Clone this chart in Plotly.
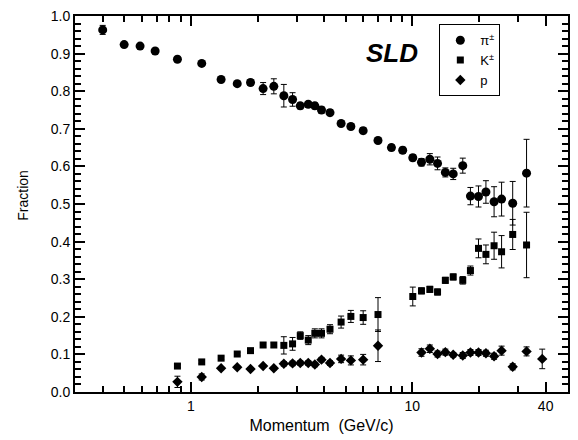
import plotly.graph_objects as go

# Pions
pi_p = [0.40, 0.50, 0.59, 0.69, 0.87, 1.12, 1.37, 1.62, 1.86, 2.12, 2.37, 2.63, 2.88, 3.12, 3.39,
        3.63, 3.89, 4.25, 4.77, 5.28, 6.0, 7.0, 8.05, 9.05, 10.05, 11.0, 12.0, 13.0, 14.1, 15.3,
        16.9, 18.3, 19.9, 21.5, 23.4, 25.3, 28.4, 32.8]
pi_f = [0.963, 0.924, 0.920, 0.907, 0.885, 0.874, 0.831, 0.820, 0.823, 0.807, 0.813, 0.788, 0.778,
        0.761, 0.765, 0.761, 0.750, 0.743, 0.714, 0.706, 0.695, 0.669, 0.650, 0.643, 0.623, 0.611,
        0.619, 0.608, 0.584, 0.580, 0.602, 0.521, 0.520, 0.532, 0.506, 0.513, 0.502, 0.582]
pi_e = [0.012, 0.004, 0.004, 0.004, 0.004, 0.004, 0.005, 0.005, 0.008, 0.016, 0.020, 0.030, 0.018,
        0.008, 0.008, 0.008, 0.008, 0.008, 0.008, 0.008, 0.008, 0.008, 0.008, 0.008, 0.008, 0.010,
        0.015, 0.017, 0.012, 0.015, 0.020, 0.023, 0.028, 0.030, 0.040, 0.045, 0.058, 0.090]

# Kaons
k_p = [0.87, 1.12, 1.37, 1.62, 1.86, 2.12, 2.37, 2.63, 2.88, 3.12, 3.39, 3.63, 3.89, 4.25, 4.77,
       5.28, 6.0, 7.0, 10.05, 11.0, 12.0, 13.0, 14.1, 15.3, 16.9, 18.3, 19.9, 21.5, 23.4, 25.3,
       28.4, 32.8]
k_f = [0.069, 0.080, 0.090, 0.101, 0.110, 0.125, 0.125, 0.124, 0.128, 0.150, 0.138, 0.156, 0.156,
       0.167, 0.186, 0.201, 0.198, 0.206, 0.254, 0.269, 0.273, 0.266, 0.297, 0.306, 0.297, 0.323,
       0.382, 0.366, 0.389, 0.373, 0.419, 0.391]
k_e = [0.004, 0.004, 0.004, 0.004, 0.005, 0.006, 0.006, 0.023, 0.017, 0.010, 0.012, 0.012, 0.012,
       0.012, 0.016, 0.016, 0.018, 0.045, 0.025, 0.008, 0.008, 0.008, 0.008, 0.008, 0.010, 0.012,
       0.025, 0.025, 0.036, 0.043, 0.040, 0.087]

# Protons
pr_p = [0.87, 1.12, 1.37, 1.62, 1.86, 2.12, 2.37, 2.63, 2.88, 3.12, 3.39, 3.63, 3.89, 4.25, 4.77,
        5.28, 6.0, 7.0, 11.0, 12.0, 13.0, 14.1, 15.3, 16.9, 18.3, 19.9, 21.5, 23.4, 25.3, 28.4,
        32.8, 38.6]
pr_f = [0.027, 0.040, 0.063, 0.066, 0.061, 0.069, 0.063, 0.075, 0.076, 0.077, 0.077, 0.073, 0.086,
        0.077, 0.088, 0.084, 0.086, 0.123, 0.105, 0.115, 0.101, 0.106, 0.099, 0.097, 0.105, 0.105,
        0.103, 0.095, 0.110, 0.067, 0.108, 0.088]
pr_e = [0.015, 0.008, 0.004, 0.004, 0.004, 0.004, 0.004, 0.006, 0.006, 0.006, 0.006, 0.006, 0.006,
        0.006, 0.010, 0.012, 0.014, 0.042, 0.010, 0.010, 0.008, 0.008, 0.006, 0.008, 0.008, 0.008,
        0.008, 0.008, 0.012, 0.008, 0.012, 0.026]

major_ticks = [1, 10, 40]
major_text = ["1", "10", "40"]
minor_ticks = [0.3, 0.4, 0.5, 0.6, 0.7, 0.8, 0.9, 2, 3, 4, 5, 6, 7, 8, 9, 20, 30, 50]

FONT = "Liberation Sans, Arial, sans-serif"

def err(e):
    return dict(type="data", array=e, visible=True, color="black", thickness=1, width=3)

fig = go.Figure()
fig.add_trace(go.Scatter(x=pi_p, y=pi_f, mode="markers", name="π<sup>±</sup>",
                         marker=dict(symbol="circle", size=9, color="black"), error_y=err(pi_e)))
fig.add_trace(go.Scatter(x=k_p, y=k_f, mode="markers", name="K<sup>±</sup>",
                         marker=dict(symbol="square", size=7, color="black"), error_y=err(k_e)))
fig.add_trace(go.Scatter(x=pr_p, y=pr_f, mode="markers", name="p",
                         marker=dict(symbol="diamond", size=8, color="black"), error_y=err(pr_e)))

fig.update_layout(
    width=578, height=440,
    margin=dict(l=75, r=8, t=10, b=47),
    paper_bgcolor="white", plot_bgcolor="white",
    font=dict(family=FONT, size=14, color="black"),
    showlegend=True,
    legend=dict(x=0.739, y=0.978, xanchor="left", yanchor="top",
                bordercolor="black", borderwidth=1, bgcolor="white",
                font=dict(size=13), itemwidth=30, tracegroupgap=0),
    xaxis=dict(type="log", range=[-0.523, 1.703], tickmode="array",
               tickvals=major_ticks, ticktext=major_text,
               ticks="inside", ticklen=10, tickwidth=2, tickcolor="black",
               showline=True, linewidth=2, linecolor="black", mirror="ticks",
               showgrid=False, zeroline=False,
               minor=dict(tickmode="array", tickvals=minor_ticks, ticks="inside",
                          ticklen=6, tickwidth=1.5, tickcolor="black", showgrid=False),
               title=dict(text="Momentum  (GeV/c)", font=dict(size=16), standoff=7)),
    yaxis=dict(range=[0, 1.0], tickmode="linear", tick0=0, dtick=0.1, tickformat=".1f",
               ticks="inside", ticklen=10, tickwidth=2, tickcolor="black",
               showline=True, linewidth=2, linecolor="black", mirror="ticks",
               showgrid=False, zeroline=False,
               minor=dict(dtick=0.02, ticks="inside", ticklen=6, tickwidth=1.5,
                          tickcolor="black", showgrid=False)),
    annotations=[
        dict(text="<b><i>SLD</i></b>", x=0.642, y=0.902, xref="paper", yref="paper",
             showarrow=False, xanchor="center", yanchor="middle",
             font=dict(family=FONT, size=26, color="black")),
        dict(text="Fraction", textangle=-90, x=0, y=0.522, xref="paper", yref="paper",
             xshift=-52, showarrow=False, xanchor="center", yanchor="middle",
             font=dict(family=FONT, size=14, color="black")),
    ],
)

fig.write_html("out.html")
